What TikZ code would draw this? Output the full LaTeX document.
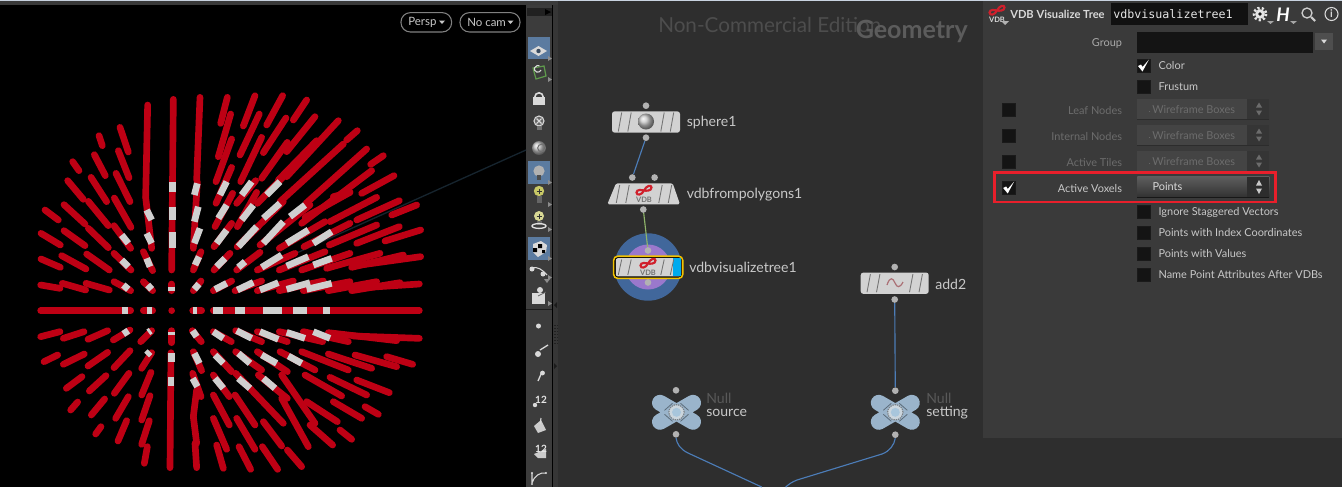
\documentclass[tikz,border=0pt]{standalone}
\usepackage{fontspec}
\setmainfont{Lato}
\setmonofont{DejaVu Sans Mono}
\usetikzlibrary{calc}
\definecolor{netbg}{HTML}{2E2E2E}
\definecolor{panelbg}{HTML}{3A3A3A}
\definecolor{barbg}{HTML}{3C3C3C}
\definecolor{spikered}{HTML}{BE0014}
\definecolor{spikewhite}{HTML}{CFCFCF}
\definecolor{nodefill}{HTML}{D2D2D2}
\definecolor{dotgrey}{HTML}{B2B2B2}
\definecolor{wireblue}{HTML}{4C7DB8}
\definecolor{wiregreen}{HTML}{8FB56A}
\definecolor{nullblue}{HTML}{9AB4CB}
\definecolor{txt}{HTML}{C8C8C8}
\definecolor{txtdim}{HTML}{6C6C6C}
\definecolor{hilite}{HTML}{5B7BA0}
\definecolor{vdbred}{HTML}{D0202C}
\tikzset{
  redspike/.style={draw=spikered,line width=5pt,line cap=round},
  whitespike/.style={draw=spikewhite,line width=5pt,line cap=butt},
  pdot/.style={circle,fill=dotgrey,inner sep=0pt,minimum size=5pt},
  wire/.style={draw=wireblue,line width=0.85pt},
  netlabel/.style={anchor=west,text=txt,inner sep=0pt,yshift=-0.8pt,font=\fontsize{10.55pt}{12pt}\selectfont},
  nulllabel/.style={anchor=west,text=black!65,inner sep=0pt,yshift=-0.8pt,font=\fontsize{10.55pt}{12pt}\selectfont},
  chk/.style={draw=black!55!panelbg,fill=black!65!panelbg,line width=0.7pt,minimum size=9.4pt,inner sep=0pt},
  plabel/.style={anchor=west,text=txt,inner sep=0pt,yshift=-0.75pt,font=\fontsize{8.2pt}{10pt}\selectfont},
  rlabel/.style={anchor=east,text=txtdim,inner sep=0pt,yshift=-0.75pt,font=\fontsize{8.2pt}{10pt}\selectfont},
  stripe/.style={draw=black!45!nodefill,line width=0.65pt},
  iconline/.style={draw=black!15,line width=0.8pt},
  pill/.style={draw=white!50!black,line width=0.8pt,rounded corners=7pt,fill=black},
}
\newcommand{\nstripes}[3]{%
  \foreach \dx in {-26,-16.5,16.5,26}{%
    \draw[stripe] ({#1+\dx+1.7},{#2+1.5}) -- ({#1+\dx-1.7},{#3-1.5});}}
\newcommand{\vdbmark}[3]{%
  \begin{scope}[shift={(#1,#2)}]
    \draw[vdbred,line width=1.6pt]
      (0,-3.5) .. controls (2,-8) and (7.5,-10) .. (7.5,-6.5)
      .. controls (7.5,-3) and (2,-3) .. (0,-3.5)
      .. controls (-2,-4) and (-7.5,-5) .. (-7.5,-1.5)
      .. controls (-7.5,2) and (-2,1) .. (0,-3.5);
    \node[inner sep=0pt,text=#3,font=\bfseries\fontsize{5.6pt}{6pt}\selectfont] at (0,5.5) {VDB};
  \end{scope}}
\newcommand{\bulbicon}[3]{%
  \fill[#3] (#1,#2) circle[radius=5.6];
  \fill[black!70] ({#1-2.4},{#2+4}) rectangle ({#1+2.4},{#2+9});}
\newcommand{\tick}[1]{%
  \fill[white] ($(#1)+(-6,0)$) -- ($(#1)+(-3,-1.5)$) -- ($(#1)+(-1.5,1)$) -- ($(#1)+(5,-6.5)$) -- ($(#1)+(2,-1)$) -- ($(#1)+(-1.5,5.5)$) -- cycle;}
\begin{document}
\begin{tikzpicture}[x=0.75pt,y=-0.75pt]
\useasboundingbox (0,0) rectangle (1342,487);
% backgrounds
\fill[black] (0,0) rectangle (526,487);
\fill[barbg] (526,0) rectangle (552,487);
\fill[black] (552,0) rectangle (553,487);
\fill[barbg!90!black] (553,0) rectangle (558,487);
\fill[netbg] (558,0) rectangle (1342,487);
\fill[panelbg] (983,0) rectangle (1342,438);
\fill[panelbg] (0,0) rectangle (558,5);
\fill[black] (520,5) rectangle (526,8);
\definecolor{topline}{HTML}{C9D3E0}
\fill[topline] (0,0) rectangle (1342,1);
% viewport
\definecolor{sightline}{HTML}{16242E}
\draw[draw=sightline,line width=1pt] (526,150) -- (290,256);
\begin{scope}[shift={(0,80)},scale=1/3]
\foreach \a/\b/\c/\d in {
520/58/515/570, 515/612/515/632, 515/692/515/692,
443/75/437/350, 437/352/455/505, 430/515/458/572, 430/605/458/632, 430/692/458/692,
600/52/590/300, 592/305/580/505, 603/515/580/570, 603/603/580/632, 578/692/605/692,
682/52/662/130, 692/102/655/230, 695/177/648/305, 695/262/648/370, 698/340/645/440, 695/430/642/500, 690/520/642/570, 695/603/640/632,
765/47/730/138, 778/102/720/225, 785/172/722/305, 767/302/710/370, 770/337/712/440, 775/440/712/500, 780/517/710/570, 785/603/705/632,
848/47/800/135, 858/114/790/218, 862/187/785/295, 870/270/772/370, 850/365/712/500, 930/375/780/495, 885/520/772/570,
920/60/880/120, 945/110/860/215, 950/182/835/300, 1015/122/860/290, 1030/192/840/365, 1072/152/1040/180, 1100/207/918/370, 1115/272/905/430, 1150/227/1112/253, 1182/287/1085/340, 1050/337/1000/350, 1050/337/915/412, 1130/352/990/425, 1198/362/1070/420, 1250/375/1175/405,
975/425/838/505, 1050/430/912/500, 1130/435/988/495, 1198/440/1070/490, 1262/450/1155/483,
975/515/838/570, 1050/520/905/570, 1140/520/980/565, 1210/525/1055/562, 1262/530/1060/558,
880/603/772/632, 970/603/838/632, 1050/605/910/632, 1130/605/985/632, 1200/608/1055/632, 1258/612/1060/625,
640/692/1258/692,
297/167/307/197, 360/142/385/216, 283/224/316/287, 355/212/387/293, 218/245/237/272, 273/292/320/365, 348/280/390/365, 203/302/250/358, 265/364/325/437, 343/354/393/442, 342/437/392/505,
135/390/175/420, 192/374/255/432, 265/445/325/503, 342/520/393/570, 342/605/392/632,
123/460/181/495, 192/452/255/497, 260/522/328/570, 123/537/181/562, 185/527/258/567,
122/615/180/625, 187/610/257/630, 258/610/328/630, 122/692/392/692,
122/770/180/755, 190/775/252/755, 264/778/323/752, 340/780/390/750, 422/785/455/752,
132/845/173/825, 190/853/253/822, 264/858/323/817, 342/863/390/812, 425/865/455/818,
199/925/246/890, 268/933/318/887, 343/940/387/880, 425/945/453/877,
212/990/233/966, 274/1005/314/957, 347/1015/385/950, 425/1020/450/947,
287/1062/303/1040, 354/1083/380/1022, 425/1093/448/1022, 433/1150/442/1100,
515/752/515/788, 513/818/510/1163,
577/752/604/785, 580/815/605/872, 578/880/603/950, 590/930/580/1010, 580/1010/590/1090, 585/1090/590/1163,
640/755/694/785, 640/815/695/875, 640/885/688/950, 640/945/688/1035, 640/1015/680/1108, 650/1095/670/1165,
707/752/785/785, 707/815/785/870, 707/880/850/1030, 705/945/765/1035, 710/1015/765/1108, 717/1100/752/1168,
772/755/862/785, 772/815/862/875, 775/885/862/955, 790/1025/845/1098, 787/1100/833/1168,
838/755/968/785, 840/815/945/870, 845/885/945/1030, 845/955/925/1100, 862/1110/905/1160,
910/755/1045/785, 905/815/1045/870, 915/885/1025/948, 920/965/1012/1025, 930/1035/998/1095,
985/758/1190/782, 985/822/1115/865, 990/892/1100/945, 1000/965/1085/1015, 1020/1050/1055/1078,
1065/825/1190/860, 1070/900/1168/938, 1095/980/1135/1003, 1160/830/1238/853, 1060/768/1258/775}
  {\draw[redspike] (\a,\b) -- (\c,\d);}
\foreach \a/\b/\c/\d in {
517/305/517/335, 517/380/517/420, 517/455/517/505, 515/620/515/632,
592/310/583/345, 595/380/583/425, 600/445/583/490, 597/530/585/555, 597/612/583/628,
680/305/660/345, 680/375/655/415, 680/450/650/490, 675/535/650/560, 680/610/645/628,
755/305/725/345, 760/375/725/420, 770/440/715/500, 735/545/715/562, 760/607/712/630,
840/305/800/345, 840/370/790/415, 850/425/790/490, 845/525/785/562, 835/608/780/630,
915/375/870/410, 925/450/860/490, 925/530/860/558, 930/608/860/628,
995/455/940/490, 995/535/940/555, 995/610/920/628,
640/692/670/692, 705/692/735/692, 790/692/845/692, 880/692/920/692, 970/692/990/692,
580/692/590/692, 365/692/385/692, 440/692/455/692,
710/752/755/775, 780/755/835/778, 860/757/915/775, 940/755/990/775, 640/755/670/775, 578/752/590/770,
515/820/515/845, 583/820/598/850, 645/825/670/850, 715/820/750/850, 785/825/830/850, 865/828/905/850,
513/892/513/918, 578/895/592/920, 645/895/670/925, 715/895/750/925, 790/895/825/925,
365/465/385/490, 440/390/455/420, 440/460/455/490, 440/535/450/560, 365/540/385/560, 370/615/385/628, 443/615/455/628, 370/762/385/752, 445/757/452/752, 440/825/450/815,
515/755/515/765}
  {\draw[whitespike] (\a,\b) -- (\c,\d);}
\end{scope}
% viewport buttons
\node[pill,minimum width=38pt,minimum height=14.5pt,inner sep=0pt] (perspb) at (426.3,22.3) {};
\node[pill,minimum width=45pt,minimum height=14.5pt,inner sep=0pt] (nocamb) at (490,22.3) {};
\node[anchor=west,inner sep=0pt,yshift=-0.75pt,text=txt,font=\fontsize{8.6pt}{10pt}\selectfont] (persp) at (408,21.5) {Persp};
\node[anchor=west,inner sep=0pt,yshift=-0.75pt,text=txt,font=\fontsize{8.6pt}{10pt}\selectfont] (nocam) at (467,21.5) {No cam};
\fill[txt] (439,20.5) -- (445,20.5) -- (442,24) -- cycle;
\fill[txt] (507.5,20.5) -- (513.5,20.5) -- (510.5,24) -- cycle;
% toolbar
\fill[black!45!barbg] (527,8) rectangle (552,16);
\fill[black] (545,9) -- (551,12) -- (545,15) -- cycle;
\foreach \ty in {36.7,161,237}{\fill[hilite] (528,\ty) rectangle (550,{\ty+22.5});}
\foreach \ty in {59,80,183,205,230,259,278,304}{\fill[black!45] (548,{\ty-3}) -- (548,{\ty+2}) -- (552,{\ty-0.5}) -- cycle;}
% eye
\fill[black!15] (530,51) -- (538.5,46) -- (547,51) -- (538.5,56) -- cycle;
\fill[hilite!60!black] (538.5,51) circle[radius=2.2];
% green swirl
\definecolor{iconGreen}{HTML}{5F9A4C}
\draw[iconGreen,line width=0.9pt] (533,68) -- (544,66) -- (546,76) -- (536,79) -- cycle;
\draw[black!15,line width=0.8pt] (541,70) arc[start angle=20,end angle=300,radius=3.4];
% lock
\draw[black!15,line width=1.2pt] (534.8,97) arc[start angle=-180,end angle=0,radius=4.2];
\fill[black!15] (533,97) rectangle (545,105);
% bulb x
\draw[iconline,fill=black!60] (539,121) circle[radius=5];
\draw[iconline] (536.5,118.5) -- (541.5,123.5) (541.5,118.5) -- (536.5,123.5);
\fill[black!55] (536.5,126) rectangle (541.5,130);
% knob
\shade[ball color=black!25] (539,148) circle[radius=7];
\draw[black!55,line width=0.8pt] (541.5,148) circle[radius=3.8];
% highlighted bulb
\bulbicon{539}{171}{black!30}
% yellow bulb
\definecolor{bulbY}{HTML}{C8C866}
\fill[bulbY] (539,191) circle[radius=5.2];
\draw[black!80,line width=0.7pt] (539,188.5) -- (539,193.5) (536.5,191) -- (541.5,191);
\fill[black!60] (536.5,196) rectangle (541.5,203);
% ring bulb
\fill[bulbY!70!white] (539,216) circle[radius=5];
\draw[black!80,line width=0.7pt] (539,213.5) -- (539,218.5) (536.5,216) -- (541.5,216);
\fill[black!60] (536.5,221) rectangle (541.5,225);
\draw[black!12,line width=1pt] (539,226) ellipse[x radius=7,y radius=2.4];
% cube
\fill[black!15] (533,244) -- (541,241) -- (547,245) -- (546,252) -- (538,257) -- (533,252) -- cycle;
\fill[black] (538,244) rectangle (542,248) (533,248) rectangle (537,252) (542,250) rectangle (545,253);
% glasses
\draw[iconline] (532,268) .. controls (537,266) and (543,270) .. (547,275);
\fill[black!15] (532,269) circle[radius=2.5] (543,274) circle[radius=2.5];
\fill[black!45] (544,279) -- (550,279) -- (547,283) -- cycle;
% camera
\fill[black!15] (532,293) rectangle (545,304);
\fill[black!15] (540,290) circle[radius=3];
\draw[black!60,line width=0.6pt] (538,296) -- (546,292);
% separator
\draw[black!50!barbg,line width=0.7pt] (526,309) -- (552,309);
\fill[black!15] (538.5,326) circle[radius=2.5];
\draw[iconline,line width=1pt] (540,350) -- (548,345);
\fill[black!15] (538,354) circle[radius=3];
\draw[iconline,line width=1pt] (538,381) -- (542,372);
\fill[black!15] (542.5,373) circle[radius=2.4];
\fill[black!15] (535,405) circle[radius=2.2];
\node[inner sep=0pt,text=black!10,font=\bfseries\fontsize{7.5pt}{8pt}\selectfont] (twelvea) at (541,399.5) {12};
\fill[black!20] (534,426) -- (541,420) -- (546,430) -- (538,433) -- cycle;
\draw[iconline] (540,424) -- (541,418);
\fill[black!20] (534,454) -- (546,449) -- (546,458) -- (538,458) -- cycle;
\node[inner sep=0pt,text=black!10,font=\bfseries\fontsize{7.5pt}{8pt}\selectfont] (twelveb) at (541,449) {12};
\draw[iconline] (532,483) -- (532,473) (532,483) .. controls (534,476) and (540,472) .. (546,473);
\fill[black!15] (532,484) circle[radius=1.2] (532,473) circle[radius=1.2] (546,473) circle[radius=1.2];
% sash handle
\foreach \hy in {325,328,331,334,337,340,343}{\fill[black!45!barbg] (554,\hy) rectangle (555.5,{\hy+1.4});\fill[black!45!barbg] (556.5,\hy) rectangle (558,{\hy+1.4});}
\fill[black!55!barbg] (557,302) -- (554,305) -- (557,308) -- cycle;
\fill[black!55!barbg] (554,363) -- (557,366) -- (554,369) -- cycle;
% watermark
\node[anchor=west,inner sep=0pt,text=white!15!netbg,font=\fontsize{15.5pt}{18pt}\selectfont] (watermark) at (658,24.5) {Non-Commercial Edition};
\node[anchor=east,inner sep=0pt,text=white!22!netbg,font=\bfseries\fontsize{18.8pt}{20pt}\selectfont] (ctx) at (968,31) {Geometry};
% network: dots
\node[pdot] (sphi) at (646,105.7) {};
\node[pdot] (spho) at (646,137.7) {};
\node[pdot] (fpia) at (632.3,177.5) {};
\node[pdot] (fpib) at (654.6,177.5) {};
\node[pdot] (fpo) at (643.3,209.5) {};
% vis rings
\definecolor{ringblue}{HTML}{41679B}
\definecolor{ringviolet}{HTML}{9A78CC}
\fill[ringblue] (648,267) circle[radius=33.7];
\fill[ringviolet] (648,267) circle[radius=22.5];
\node[pdot] (visi) at (648,250.5) {};
\node[pdot] (viso) at (648,282.5) {};
\node[pdot] (addi) at (894.7,267) {};
\node[pdot] (addo) at (894.7,299.5) {};
\node[pdot] (srci) at (676,390.3) {};
\node[pdot] (srco) at (676,434.3) {};
\node[pdot] (seti) at (895.3,390.7) {};
\node[pdot] (seto) at (895.3,434.7) {};
\coordinate (bottoma) at (761.7,487);
\coordinate (bottomb) at (785.7,487);
% wires
\draw[wire] (spho) -- (fpia);
\draw[wire,draw=wiregreen] (fpo) -- (visi);
\draw[wire] (addo) -- (seti);
\draw[wire] (srco.south) .. controls (677,444) and (680,449) .. (688,453) -- (bottoma);
\draw[wire] (seto.south) .. controls (894,445) and (890,451) .. (882,454) -- (797,480) .. controls (792,482) and (789,484) .. (bottomb);
% sphere node
\node[fill=nodefill,rounded corners=2pt,minimum width=51pt,minimum height=16pt,inner sep=0pt] (sphn) at (646,122) {};
\nstripes{646}{111}{133}
\shade[ball color=black!22!white] (646,121.5) circle[radius=8];
% from polygons
\fill[nodefill,rounded corners=1.2pt] (616,183.3) -- (672.7,183.3) -- (680,204.3) -- (607.3,204.3) -- cycle;
\coordinate (fpn) at (643.5,193.8);
\nstripes{644}{183.5}{204.3}
\vdbmark{644}{194}{black!55}
\node[netlabel] (lsph) at (686.5,121.5) {sphere1};
\node[netlabel] (lfp) at (686.5,194) {vdbfrompolygons1};
% visualize node
\definecolor{selyellow}{HTML}{F2C200}
\definecolor{flagblue}{HTML}{00AAEE}
\node[draw=selyellow,line width=1.15pt,rounded corners=3pt,minimum width=51.8pt,minimum height=16.6pt,inner sep=0pt,fill=black] (visn) at (648.2,267.3) {};
\fill[nodefill,rounded corners=1.5pt] (615.8,258.2) rectangle (681,276.4);
\fill[flagblue] (672.7,258.2) rectangle (681,276.4);
\nstripes{646}{258}{276.4}
\vdbmark{648}{267}{black!55}
\node[netlabel] (lvis) at (689,266.5) {vdbvisualizetree1};
% add
\node[fill=nodefill,rounded corners=2pt,minimum width=51pt,minimum height=16pt,inner sep=0pt] (addn) at (894.7,283.2) {};
\nstripes{894.7}{272.7}{293.7}
\draw[vdbred!55!black!60!white,line width=0.9pt] (887,285) .. controls (890,276) and (893,278) .. (895,283) .. controls (897,288) and (900,288) .. (903,282);
\node[netlabel] (ladd) at (935,283) {add2};
% null nodes
\definecolor{nullring}{HTML}{CBD6DE}
\definecolor{nullcore}{HTML}{A8C6DC}
\foreach \nn/\nx in {srcn/676.5,setn/895.3}{
  \begin{scope}[shift={(\nx,412.3)}]
    \draw[nullblue,line width=12pt,line cap=round] (-16.5,-9.5) -- (16.5,9.5) (-16.5,9.5) -- (16.5,-9.5);
    \draw[black!40!nullblue,line width=0.6pt] (-12,-2) -- (-4,-9) (12,-2) -- (4,-9) (-12,2) -- (-4,9) (12,2) -- (4,9);
    \node[circle,fill=nullring,draw=black!40!nullring,line width=0.9pt,dash pattern=on 1pt off 0.7pt,minimum size=11.5pt,inner sep=0pt] (\nn) at (0,0) {};
    \fill[nullcore] (0,0) circle[radius=4.5];
  \end{scope}}
\node[nulllabel] (nulla) at (706,397) {Null};
\node[netlabel] (lsrc) at (706,411.5) {source};
\node[nulllabel] (nullb) at (926,397) {Null};
\node[netlabel] (lset) at (926,411.5) {setting};
% parameter panel header
\fill[black!70!panelbg] (1110.7,3.3) rectangle (1247.7,25);
\node[anchor=west,inner sep=0pt,text=white!90!black,font=\ttfamily\fontsize{8.75pt}{10pt}\selectfont] (nodename) at (1113,14) {vdbvisualizetree1};
\vdbmark{997}{14}{white!85!black}
\fill[black!30] (1001,21) -- (1009,21) -- (1005,25) -- cycle;
\node[anchor=west,inner sep=0pt,text=white!85!black,font=\bfseries\fontsize{8.35pt}{10pt}\selectfont] (ptitle) at (1010,14) {VDB Visualize Tree};
% gear
\fill[white!90!black] (1260,14) circle[radius=4.8];
\draw[white!90!black,line width=2pt,dash pattern=on 1.6pt off 1.6pt] (1260,14) circle[radius=6];
\fill[black!60!panelbg] (1260,14) circle[radius=1.8];
\fill[black!35] (1267,21) -- (1274,21) -- (1270.5,24) -- cycle;
\node[inner sep=0pt,text=white,font=\bfseries\itshape\fontsize{14pt}{16pt}\selectfont] (hbtn) at (1283,14.5) {H};
\fill[black!35] (1290,21) -- (1297,21) -- (1293.5,24) -- cycle;
\draw[white!80!black,line width=1pt] (1307,13) circle[radius=5];
\draw[white!80!black,line width=1.6pt] (1311,17) -- (1315,21);
\draw[white!85!black,line width=0.8pt] (1331.5,14) circle[radius=6.5];
\node[inner sep=0pt,text=white!85!black,font=\bfseries\fontsize{8pt}{9pt}\selectfont] (infob) at (1331.5,14) {i};
% parameters
\node[rlabel,text=txt!85!black] (lgroup) at (1122.3,42) {Group};
\fill[black!65!panelbg] (1137.3,32.3) rectangle (1312.7,53.3);
\fill[white!10!panelbg] (1314.7,33.3) rectangle (1332.7,50);
\fill[black!15] (1321,39.5) -- (1327,39.5) -- (1324,43.5) -- cycle;
% check boxes
\foreach \cn/\cx/\cy in {cka/1144/66,ckb/1144/86.7,ckc/1144/212,ckd/1144/232.7,cke/1144/253.7,ckf/1144/274.7,ckg/1009.2/110,ckh/1009.2/136,cki/1009.2/162,ckj/1009.2/188}
  {\node[chk] (\cn) at (\cx,\cy) {};}
\tick{cka}
\tick{ckj}
\node[plabel] (pcolor) at (1158.3,65) {Color};
\node[plabel] (pfrust) at (1158.3,86) {Frustum};
\node[rlabel] (pleaf) at (1122.3,110) {Leaf Nodes};
\node[rlabel] (pinternal) at (1122.3,136) {Internal Nodes};
\node[rlabel] (ptiles) at (1122.3,162) {Active Tiles};
\node[rlabel,text=txt] (pvox) at (1122.3,188) {Active Voxels};
\foreach \dn/\dy in {dda/99,ddb/125,ddc/151}{
  \fill[white!5!panelbg] (1137.3,\dy) rectangle (1269.3,{\dy+20.3});
  \fill[black!8!panelbg] (1247,\dy) rectangle (1269.3,{\dy+20.3});
  \fill[black!25!panelbg] (1137.3,{\dy+20.3}) rectangle (1269.3,{\dy+21});
  \node[anchor=west,inner sep=0pt,yshift=-0.5pt,text=txtdim,font=\fontsize{8.2pt}{10pt}\selectfont] (\dn) at (1152,{\dy+10}) {Wireframe Boxes};
  \fill[txtdim] (1149.5,{\dy+12.5}) circle[radius=0.5];
  \fill[txtdim] (1256,{\dy+8.5}) -- (1262,{\dy+8.5}) -- (1259,{\dy+3.5}) -- cycle;
  \fill[txtdim] (1256,{\dy+11.5}) -- (1262,{\dy+11.5}) -- (1259,{\dy+16.5}) -- cycle;
}
\shade[top color=white!18!panelbg,bottom color=black!15!panelbg] (1137.3,176.7) rectangle (1269.3,197.3);
\fill[black!60!panelbg] (1137.3,197.3) rectangle (1269.3,198);
\fill[black!22!panelbg] (1247,176.7) rectangle (1269.3,197.3);
\node[anchor=west,inner sep=0pt,text=white!85!black,font=\fontsize{8.2pt}{10pt}\selectfont] (ddp) at (1152.3,187) {Points};
\fill[txt] (1256,185.5) -- (1262,185.5) -- (1259,180) -- cycle;
\fill[txt] (1256,188.5) -- (1262,188.5) -- (1259,194) -- cycle;
\node[plabel] (pign) at (1158.3,211) {Ignore Staggered Vectors};
\node[plabel] (pidx) at (1158.3,232) {Points with Index Coordinates};
\node[plabel] (pval) at (1158.3,253) {Points with Values};
\node[plabel] (pname) at (1158.3,274) {Name Point Attributes After VDBs};
\definecolor{callout}{HTML}{E81F2B}
\draw[draw=callout,line width=1.9pt] (994.7,172.7) rectangle (1275.3,202);
\end{tikzpicture}
\end{document}
